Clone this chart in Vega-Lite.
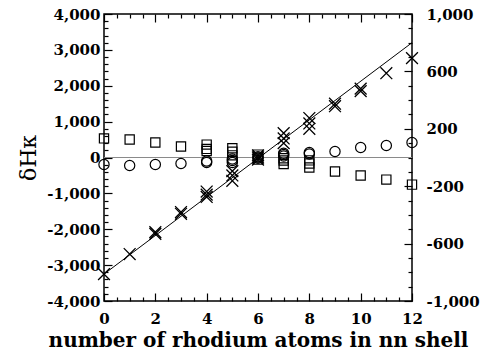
{
  "$schema": "https://vega.github.io/schema/vega-lite/v6.json",
  "width": 308,
  "height": 287,
  "autosize": {"type": "none"},
  "padding": {"left": 104, "top": 14, "right": 83, "bottom": 56},
  "background": "white",
  "config": {
    "view": {"stroke": "black", "strokeWidth": 1.5},
    "axis": {
      "labelFont": "DejaVu Serif",
      "labelFontWeight": "bold",
      "labelFontSize": 15,
      "labelColor": "black",
      "titleFont": "DejaVu Serif",
      "titleColor": "black",
      "domain": false,
      "grid": false,
      "ticks": true,
      "tickColor": "black",
      "tickOpacity": 1,
      "tickWidth": 1.2,
      "tickCount": 200,
      "zindex": 2
    }
  },
  "datasets": {
    "zero": [{"z": 0}],
    "fit": [{"n": 0, "v": -3250}, {"n": 12, "v": 3200}],
    "cross": [
      {"n": 0, "v": -3250}, {"n": 1, "v": -2690},
      {"n": 2, "v": -2130}, {"n": 2, "v": -2080},
      {"n": 3, "v": -1570}, {"n": 3, "v": -1520},
      {"n": 4, "v": -1035}, {"n": 4, "v": -950}, {"n": 4, "v": -1100},
      {"n": 5, "v": -500}, {"n": 5, "v": -380}, {"n": 5, "v": -650},
      {"n": 6, "v": 0}, {"n": 6, "v": -60}, {"n": 6, "v": 60},
      {"n": 7, "v": 530}, {"n": 7, "v": 680}, {"n": 7, "v": 400},
      {"n": 8, "v": 950}, {"n": 8, "v": 1100}, {"n": 8, "v": 800},
      {"n": 9, "v": 1430}, {"n": 9, "v": 1500},
      {"n": 10, "v": 1850}, {"n": 10, "v": 1920},
      {"n": 11, "v": 2350}, {"n": 12, "v": 2770}
    ],
    "circle": [
      {"n": 0, "v": -49}, {"n": 1, "v": -56}, {"n": 2, "v": -49}, {"n": 3, "v": -42},
      {"n": 4, "v": -35}, {"n": 4, "v": -25},
      {"n": 5, "v": -21}, {"n": 5, "v": -10}, {"n": 5, "v": -35},
      {"n": 6, "v": -5}, {"n": 6, "v": 5},
      {"n": 7, "v": 21}, {"n": 7, "v": 10}, {"n": 7, "v": 30},
      {"n": 8, "v": 35}, {"n": 8, "v": 25},
      {"n": 9, "v": 42}, {"n": 10, "v": 70}, {"n": 11, "v": 84}, {"n": 12, "v": 105}
    ],
    "square": [
      {"n": 0, "v": 133}, {"n": 1, "v": 126}, {"n": 2, "v": 105}, {"n": 3, "v": 77},
      {"n": 4, "v": 90}, {"n": 4, "v": 60}, {"n": 4, "v": 45},
      {"n": 5, "v": 65}, {"n": 5, "v": 40}, {"n": 5, "v": 15},
      {"n": 6, "v": 0}, {"n": 6, "v": 20}, {"n": 6, "v": -15},
      {"n": 7, "v": -21}, {"n": 7, "v": -5}, {"n": 7, "v": -45},
      {"n": 8, "v": -42}, {"n": 8, "v": -20}, {"n": 8, "v": -70},
      {"n": 9, "v": -98}, {"n": 10, "v": -126}, {"n": 11, "v": -154}, {"n": 12, "v": -189}
    ]
  },
  "layer": [
    {
      "layer": [
        {
          "data": {"name": "zero"},
          "mark": {"type": "rule", "color": "#8a8a8a", "strokeWidth": 1},
          "encoding": {
            "y": {
              "field": "z", "type": "quantitative",
              "scale": {"domain": [-4000, 4000], "nice": false},
              "axis": {
                "orient": "left",
                "values": [-4000,-3800,-3600,-3400,-3200,-3000,-2800,-2600,-2400,-2200,-2000,-1800,-1600,-1400,-1200,-1000,-800,-600,-400,-200,0,200,400,600,800,1000,1200,1400,1600,1800,2000,2200,2400,2600,2800,3000,3200,3400,3600,3800,4000],
                "tickCount": 200,
                "labelExpr": "datum.value % 1000 === 0 ? replace(format(datum.value, ','), '\u2212', '-') : ''",
                "labelOverlap": false,
                "labelFlush": false,
                "tickSize": {"condition": {"test": "datum.value % 1000 === 0", "value": -8}, "value": -4},
                "labelPadding": 12,
                "title": "δHκ",
                "titleFontSize": 22,
                "titleFontWeight": "normal",
                "titlePadding": 6
              }
            }
          }
        },
        {
          "data": {"name": "fit"},
          "mark": {"type": "line", "color": "black", "strokeWidth": 1},
          "encoding": {
            "x": {"field": "n", "type": "quantitative"},
            "y": {"field": "v", "type": "quantitative"}
          }
        },
        {
          "data": {"name": "cross"},
          "mark": {"type": "point", "shape": "M-1,-1L1,1M-1,1L1,-1", "size": 140, "stroke": "black", "strokeWidth": 1.3, "filled": false, "opacity": 1},
          "encoding": {
            "x": {
              "field": "n", "type": "quantitative",
              "scale": {"domain": [0, 12], "nice": false, "zero": false},
              "axis": {
                "orient": "bottom",
                "values": [0,0.5,1,1.5,2,2.5,3,3.5,4,4.5,5,5.5,6,6.5,7,7.5,8,8.5,9,9.5,10,10.5,11,11.5,12],
                "tickCount": 200,
                "labelExpr": "datum.value % 2 === 0 ? format(datum.value, 'd') : ''",
                "labelOverlap": false,
                "labelFlush": false,
                "tickSize": {"condition": {"test": "datum.value % 2 === 0", "value": -8}, "value": -4},
                "labelPadding": 18,
                "title": "number of rhodium atoms in nn shell",
                "titleFontSize": 20,
                "titleFontWeight": "bold",
                "titlePadding": 0
              }
            },
            "y": {"field": "v", "type": "quantitative"}
          }
        }
      ]
    },
    {
      "layer": [
        {
          "data": {"name": "circle"},
          "mark": {"type": "point", "shape": "circle", "size": 105, "stroke": "black", "strokeWidth": 1.2, "filled": false, "opacity": 1},
          "encoding": {
            "x": {
              "field": "n", "type": "quantitative",
              "axis": {
                "orient": "top",
                "values": [0,0.5,1,1.5,2,2.5,3,3.5,4,4.5,5,5.5,6,6.5,7,7.5,8,8.5,9,9.5,10,10.5,11,11.5,12],
                "tickCount": 200,
                "labels": false,
                "tickSize": {"condition": {"test": "datum.value % 2 === 0", "value": -8}, "value": -4},
                "title": null
              }
            },
            "y": {
              "field": "v", "type": "quantitative",
              "scale": {"domain": [-1000, 1000], "nice": false},
              "axis": {
                "orient": "right",
                "values": [-1000,-900,-800,-700,-600,-500,-400,-300,-200,-100,0,100,200,300,400,500,600,700,800,900,1000],
                "tickCount": 200,
                "labelExpr": "(datum.value + 1000) % 400 === 0 ? replace(format(datum.value, ','), '\u2212', '-') : ''",
                "labelOverlap": false,
                "labelFlush": false,
                "tickSize": {"condition": {"test": "(datum.value + 1000) % 400 === 0", "value": -8}, "value": -4},
                "labelPadding": 22,
                "title": null
              }
            }
          }
        },
        {
          "data": {"name": "square"},
          "mark": {"type": "point", "shape": "square", "size": 85, "stroke": "black", "strokeWidth": 1.2, "filled": false, "opacity": 1},
          "encoding": {
            "x": {"field": "n", "type": "quantitative"},
            "y": {"field": "v", "type": "quantitative"}
          }
        }
      ]
    }
  ],
  "resolve": {"scale": {"y": "independent"}, "axis": {"x": "independent"}}
}
